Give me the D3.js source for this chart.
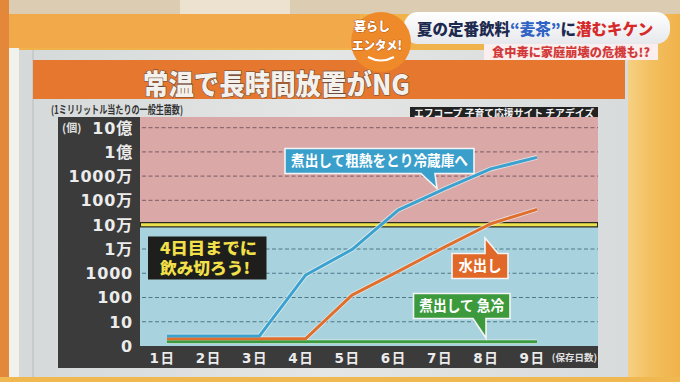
<!DOCTYPE html>
<html><head><meta charset="utf-8">
<script src="https://cdn.jsdelivr.net/npm/d3@7"></script>
<style>
html,body{margin:0;padding:0;background:#f0b64c;}
svg{display:block;}
text{font-family:"DejaVu Sans","Noto Sans CJK JP",sans-serif;}
.jp{font-family:"Noto Sans CJK JP","Noto Sans",sans-serif;}
</style></head><body>
<svg id="c" width="680" height="382"></svg>
<script>
// ---- data ----
const days = [1,2,3,4,5,6,7,8,9];
const dayLabels = ["1日","2日","3日","4日","5日","6日","7日","8日","9日"];
const yTickValues = [1,10,100,1e3,1e4,1e5,1e6,1e7,1e8,1e9];
const yTickLabels = ["0","10","100","1000","1万","10万","100万","1000万","1億","10億"];
const seriesNames = ["煮出して粗熱をとり冷蔵庫へ","水出し","煮出して急冷"];
const boiledFridge = [2.6,2.6,2.6,850,9500,4e5,3e6,2e7,6e7];
const coldBrew = [2,2,2,2,125,1200,12000,1.1e5,4.3e5];
const boiledQuick = [1.5,1.5,1.5,1.5,1.5,1.5,1.5,1.5,1.5];
const safeLimit = 1e5;
const titleText = "常温で長時間放置がNG";
const unitText = "(1ミリリットル当たりの一般生菌数)";
const sourceText = "エフコープ 子育て応援サイト チアデイズ";
const noteLines = ["4日目までに","飲み切ろう!"];
const captionParts = ["夏の定番飲料","“麦茶”","に","潜むキケン"];

const svg = d3.select("#c");

// ---- TV background ----
const defs = svg.append("defs");
const rg = defs.append("linearGradient").attr("id","rightbg").attr("x1",0).attr("x2",1);
rg.append("stop").attr("offset",0).attr("stop-color","#f7d690");
rg.append("stop").attr("offset",0.5).attr("stop-color","#f3c061");
rg.append("stop").attr("offset",1).attr("stop-color","#f0b24a");
svg.append("rect").attr("x",0).attr("y",0).attr("width",680).attr("height",382).attr("fill","#f0b34c");
svg.append("rect").attr("x",620).attr("y",0).attr("width",60).attr("height",382).attr("fill","url(#rightbg)");
svg.append("rect").attr("x",0).attr("y",0).attr("width",680).attr("height",14).attr("fill","#dccdb2");
svg.append("rect").attr("x",180).attr("y",0).attr("width",110).attr("height",14).attr("fill","#ece2cf");
svg.append("rect").attr("x",0).attr("y",14).attr("width",360).attr("height",34).attr("fill","#f2a94a");
svg.append("rect").attr("x",0).attr("y",0).attr("width",9).attr("height",382).attr("fill","#e3873a");
svg.append("rect").attr("x",9).attr("y",48).attr("width",10).attr("height",334).attr("fill","#f3f1ec");
// board
const bg = defs.append("linearGradient").attr("id","board").attr("x1",0).attr("x2",1);
bg.append("stop").attr("offset",0).attr("stop-color","#d5d9d9");
bg.append("stop").attr("offset",0.5).attr("stop-color","#e4e6e5");
bg.append("stop").attr("offset",1).attr("stop-color","#d8dbdb");
svg.append("rect").attr("x",19).attr("y",50).attr("width",609).attr("height",327).attr("fill","url(#board)");
svg.append("line").attr("x1",33).attr("x2",33).attr("y1",50).attr("y2",377).attr("stroke","#b9bdbd").attr("stroke-width",1);
svg.append("rect").attr("x",0).attr("y",377).attr("width",680).attr("height",5).attr("fill","#f0b850");

// title band
svg.append("rect").attr("x",33).attr("y",60).attr("width",592).attr("height",39).attr("fill","#e5772f");
svg.append("text").attr("class","jp").attr("x",143).attr("y",95)
  .attr("textLength",267).attr("lengthAdjust","spacingAndGlyphs")
  .attr("font-size",28).attr("font-weight",900).attr("fill","#f4f1ec")
  .attr("stroke","#6a4a3a").attr("stroke-width",1.2).attr("paint-order","stroke")
  .text(titleText);
svg.append("text").attr("class","jp").attr("x",51).attr("y",113.5).attr("font-size",11).attr("font-weight",700)
  .attr("textLength",132).attr("lengthAdjust","spacingAndGlyphs")
  .attr("fill","#333").text(unitText);
// source box
svg.append("rect").attr("x",410).attr("y",107).attr("width",188).attr("height",11.5).attr("fill","#222");
svg.append("text").attr("class","jp").attr("x",414).attr("y",116.5)
  .attr("textLength",180).attr("lengthAdjust","spacingAndGlyphs")
  .attr("font-size",10).attr("font-weight",700).attr("fill","#f2f2f2").text(sourceText);

// ---- chart ----
const plot = {left:140, right:598, top:117, bottom:346};
const x = d3.scaleLinear().domain([1,9]).range([167,537]);
const y = d3.scaleLog().domain([1,1e9]).range([plot.bottom,127.7]);

// dark panel
svg.append("rect").attr("x",58).attr("y",plot.top).attr("width",plot.right-58).attr("height",368-plot.top).attr("fill","#3b3b3b");
// backgrounds
svg.append("rect").attr("x",plot.left).attr("y",plot.top).attr("width",plot.right-plot.left)
  .attr("height",y(safeLimit)-plot.top).attr("fill","#dba8a8");
svg.append("rect").attr("x",plot.left).attr("y",y(safeLimit)).attr("width",plot.right-plot.left)
  .attr("height",plot.bottom-y(safeLimit)).attr("fill","#a8d2de");

// dashed grid
svg.append("g").selectAll("line").data(yTickValues.filter(v=>v>1 && v!==safeLimit)).join("line")
  .attr("x1",plot.left+2).attr("x2",plot.right).attr("y1",d=>y(d)).attr("y2",d=>y(d))
  .attr("stroke",d=>d>safeLimit?"#8f6a70":"#4c7888").attr("stroke-width",1.2)
  .attr("stroke-dasharray","4,2.5");
// safe limit line
svg.append("line").attr("x1",plot.left).attr("x2",plot.right).attr("y1",y(safeLimit)).attr("y2",y(safeLimit))
  .attr("stroke","#2a2a22").attr("stroke-width",5.5);
svg.append("line").attr("x1",plot.left+1).attr("x2",plot.right-1).attr("y1",y(safeLimit)).attr("y2",y(safeLimit))
  .attr("stroke","#eee24c").attr("stroke-width",3);

// axes
const yAxis = svg.append("g").attr("transform",`translate(${plot.left},0)`)
  .call(d3.axisLeft(y).tickValues(yTickValues).tickFormat((d,i)=>yTickLabels[i]).tickSize(0).tickPadding(7));
yAxis.select(".domain").remove();
yAxis.selectAll("text").attr("font-size",16).attr("font-weight",700).attr("fill","#ececec")
  .attr("letter-spacing",0.8).attr("dy","0.34em");
svg.append("text").attr("class","jp").attr("x",62).attr("y",132).attr("font-size",11).attr("font-weight",700)
  .attr("fill","#e0e0e0").text("(個)");

const xAxis = svg.append("g").attr("transform",`translate(0,${plot.bottom})`)
  .call(d3.axisBottom(x).tickValues(days).tickFormat((d,i)=>dayLabels[i]).tickSize(0));
xAxis.select(".domain").remove();
xAxis.selectAll("text").attr("y",17).attr("dy",0).attr("dx",-5).attr("font-size",13.5).attr("font-weight",700)
  .attr("fill","#ececec").attr("letter-spacing",1.5);
svg.append("text").attr("class","jp").attr("x",597).attr("y",361).attr("text-anchor","end")
  .attr("font-size",9.5).attr("font-weight",700).attr("fill","#e0e0e0").text("(保存日数)");

// lines
const line = d3.line().x((d,i)=>x(days[i])).y(d=>y(d));
const series = [
  {vals:boiledQuick, color:"#3c9c40"},
  {vals:coldBrew, color:"#e06f2d"},
  {vals:boiledFridge, color:"#3ba1cf"}
];
const lg = svg.append("g").attr("fill","none").attr("stroke-linejoin","round");
series.forEach(s=>{
  lg.append("path").attr("d",line(s.vals)).attr("stroke","#eef4f4").attr("stroke-opacity",0.75).attr("stroke-width",4.6);
});
series.forEach(s=>{
  lg.append("path").attr("d",line(s.vals)).attr("stroke",s.color).attr("stroke-width",3);
});

// ---- annotations ----
function callout(bx,by,bw,bh,color,ptr,label,fs,tl){
  let p;
  if(ptr.side==="bottom"){
    p = `M${bx},${by} H${bx+bw} V${by+bh} H${ptr.b} L${ptr.tx},${ptr.ty} L${ptr.a},${by+bh} H${bx} Z`;
  } else {
    p = `M${bx},${by} H${ptr.a} L${ptr.tx},${ptr.ty} L${ptr.b},${by} H${bx+bw} V${by+bh} H${bx} Z`;
  }
  svg.append("path").attr("d",p).attr("fill",color).attr("stroke","#f4f4f4").attr("stroke-width",1.6)
    .attr("stroke-linejoin","miter");
  svg.append("text").attr("class","jp").attr("x",bx+(bw-tl)/2).attr("y",by+bh/2).attr("dy","0.36em")
    .attr("textLength",tl).attr("lengthAdjust","spacingAndGlyphs")
    .attr("font-size",fs).attr("font-weight",700).attr("fill","#ffffff")
    .text(label);
}
callout(285,148.5,189,25,"#3b9fcb",{side:"bottom",a:421,b:435,tx:437,ty:188.5},seriesNames[0],14.5,177);
callout(452,253.5,56,25,"#e0692a",{side:"top",a:485,b:498,tx:485,ty:238},seriesNames[1],14.5,43);
callout(413.5,293.5,96.5,25,"#3c9a3c",{side:"bottom",a:473,b:486,tx:486,ty:338},"煮出して 急冷",14.5,85);

// note box
svg.append("rect").attr("x",148).attr("y",236.5).attr("width",118.5).attr("height",43).attr("fill","#1e1e1c");
svg.append("g").selectAll("text").data(noteLines).join("text").attr("class","jp")
  .attr("x",160).attr("y",(d,i)=>254+i*20).attr("font-size",15.5).attr("font-weight",900)
  .attr("textLength",(d,i)=>i===0?97:90).attr("lengthAdjust","spacingAndGlyphs")
  .attr("fill","#f2e04a").text(d=>d);

// ---- TV captions ----
// banner 1
const b1 = defs.append("linearGradient").attr("id","b1").attr("x1",0).attr("x2",0).attr("y1",0).attr("y2",1);
b1.append("stop").attr("offset",0).attr("stop-color","#ffffff");
b1.append("stop").attr("offset",1).attr("stop-color","#e6e8ec");
svg.append("rect").attr("x",404).attr("y",12).attr("width",266).attr("height",32).attr("rx",14).attr("fill","url(#b1)");
const capColors = ["#1d2a4f","#2f63c4","#1d2a4f","#d62a2a"];
let cx = 417;
captionParts.forEach((t,i)=>{
  const el = svg.append("text").attr("class","jp").attr("x",cx).attr("y",35).attr("font-size",15.5)
    .attr("font-weight",900).attr("fill",capColors[i]).text(t);
  cx += el.node().getComputedTextLength();
});
// banner 2
svg.append("rect").attr("x",484).attr("y",44).attr("width",174).attr("height",16).attr("fill","#fbeeee");
svg.append("text").attr("class","jp").attr("x",492).attr("y",57).attr("font-size",12).attr("font-weight",900)
  .attr("textLength",158).attr("lengthAdjust","spacingAndGlyphs")
  .attr("fill","#d23a3a").text("食中毒に家庭崩壊の危機も!?");
// logo
svg.append("circle").attr("cx",381).attr("cy",42).attr("r",30).attr("fill","#ef8a2b");
svg.append("text").attr("class","jp").attr("x",354).attr("y",31).attr("font-size",12.5).attr("font-weight",900)
  .attr("textLength",36).attr("lengthAdjust","spacingAndGlyphs")
  .attr("fill","#fff").attr("stroke","#b85a10").attr("stroke-width",1).attr("paint-order","stroke").text("暮らし");
svg.append("text").attr("class","jp").attr("x",352).attr("y",49.5).attr("font-size",12.5).attr("font-weight",900)
  .attr("textLength",50).attr("lengthAdjust","spacingAndGlyphs")
  .attr("fill","#fff").attr("stroke","#b85a10").attr("stroke-width",1).attr("paint-order","stroke").text("エンタメ!");
svg.append("path").attr("d","M368,57 Q381,64 394,57").attr("fill","none").attr("stroke","#fff").attr("stroke-width",2);
</script>
</body></html>
